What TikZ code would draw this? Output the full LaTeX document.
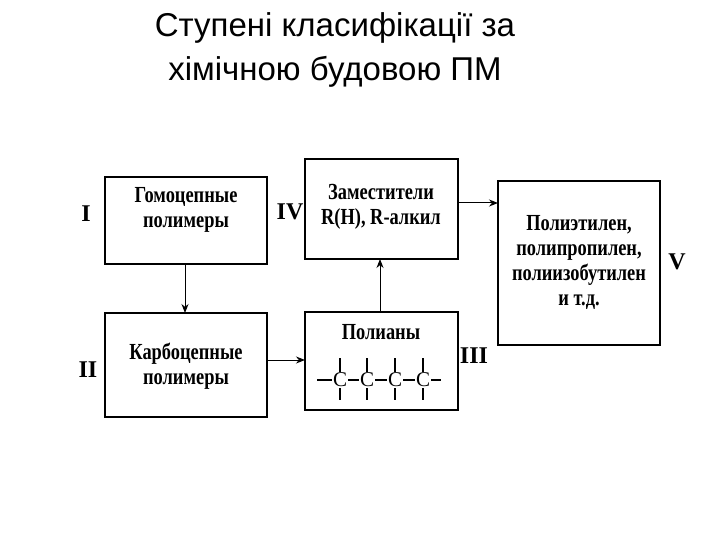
\documentclass[tikz,border=0pt]{standalone}
\usepackage{fontspec}
\setmainfont{Liberation Serif}
\newfontfamily\titlefont{Liberation Sans}
\usetikzlibrary{arrows.meta}
\begin{document}
\begin{tikzpicture}[x=1pt,y=-1pt,
  box/.style={draw,line width=1.6pt},
  txt/.style={font=\fontsize{23}{25}\selectfont\bfseries,align=center,xscale=0.8},
  roman/.style={font=\fontsize{24}{26}\selectfont\bfseries},
  arr/.style={-{Stealth[length=9pt,width=7pt]},line width=1pt}]
\useasboundingbox (0,0) rectangle (720,540);
\node[font=\titlefont\fontsize{33}{44}\selectfont,align=center] (title) at (335,50) {Ступені класифікації за\\хімічною будовою ПМ};
\draw[box] (105,177) rectangle (267,264);
\node[txt] (t1) at (186,210) {Гомоцепные\\полимеры};
\draw[box] (105,313) rectangle (267,417);
\node[txt] (t2) at (186,366) {Карбоцепные\\полимеры};
\draw[box] (305,159) rectangle (458,259);
\node[txt] (t3) at (381,207) {Заместители\\R(H), R-алкил};
\draw[box] (305,312) rectangle (458,410);
\node[txt] (t4) at (381,332) {Полианы};
\draw[box] (498,181) rectangle (660,345);
\node[txt] (t5) at (579,262) {Полиэтилен,\\полипропилен,\\полиизобутилен\\и т.д.};
\coordinate (a1) at (185,264); \coordinate (a2) at (185,313);
\draw[arr] (a1) -- (a2);
\coordinate (c1) at (267,360); \coordinate (c2) at (305,360);
\draw[arr] (c1) -- (c2);
\coordinate (d1) at (380,312); \coordinate (d2) at (380,259);
\draw[arr] (d1) -- (d2);
\coordinate (e1) at (458,203); \coordinate (e2) at (498,203);
\draw[arr] (e1) -- (e2);
\foreach \i/\x in {1/340,2/367,3/395,4/423}{
  \node[font=\fontsize{21}{21}\selectfont,inner sep=1pt] (C\i) at (\x,380) {C};
  \draw[line width=1.3pt] (C\i.north) -- ++(0,-14);
  \draw[line width=1.3pt] (C\i.south) -- ++(0,12);
}
\coordinate (L0) at (317,380); \coordinate (L5) at (441,380);
\draw[line width=1.3pt] (L0) -- (C1.west) (C1.east) -- (C2.west) (C2.east) -- (C3.west) (C3.east) -- (C4.west) (C4.east) -- (L5);
\node[roman] (r1) at (86,214) {I};
\node[roman] (r2) at (88,370) {II};
\node[roman] (r4) at (290,212) {IV};
\node[roman] (r3) at (474,356) {III};
\node[roman] (r5) at (677,262) {V};
\end{tikzpicture}
\end{document}
